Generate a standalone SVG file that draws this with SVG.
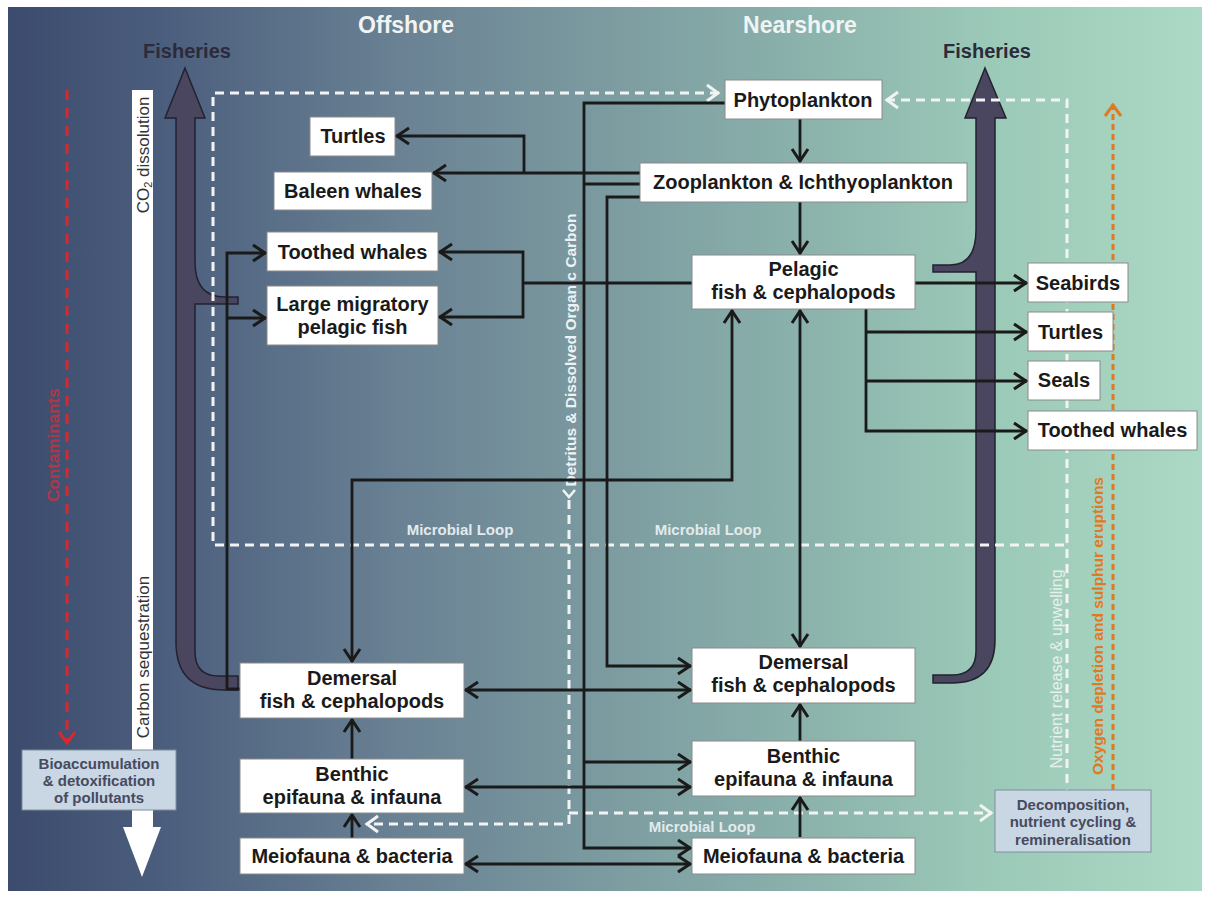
<svg xmlns="http://www.w3.org/2000/svg" width="1210" height="897" viewBox="0 0 1210 897">
<defs>
<linearGradient id="bg" x1="0" y1="0" x2="1" y2="0">
<stop offset="0" stop-color="#3c4b6d"/>
<stop offset="0.12" stop-color="#4a5c7c"/>
<stop offset="0.33" stop-color="#6a8294"/>
<stop offset="0.5" stop-color="#7c9ba0"/>
<stop offset="0.66" stop-color="#8ab1ab"/>
<stop offset="0.83" stop-color="#9ccab8"/>
<stop offset="1" stop-color="#acd9c5"/>
</linearGradient>
<marker id="ah" viewBox="0 0 20 20" refX="17" refY="10" markerWidth="20" markerHeight="20" markerUnits="userSpaceOnUse" orient="auto-start-reverse">
<path d="M4,2 L16,10 L4,18" fill="none" stroke="#1a1a1a" stroke-width="3"/>
</marker>
<marker id="wa" viewBox="0 0 20 20" refX="17" refY="10" markerWidth="20" markerHeight="20" markerUnits="userSpaceOnUse" orient="auto-start-reverse">
<path d="M5,2 L16,10 L5,18" fill="none" stroke="#f2f4f4" stroke-width="3"/>
</marker>
<marker id="oa" viewBox="0 0 20 20" refX="17" refY="10" markerWidth="20" markerHeight="20" markerUnits="userSpaceOnUse" orient="auto-start-reverse">
<path d="M5,2 L16,10 L5,18" fill="none" stroke="#e07a22" stroke-width="3"/>
</marker>
<marker id="ra" viewBox="0 0 20 20" refX="17" refY="10" markerWidth="20" markerHeight="20" markerUnits="userSpaceOnUse" orient="auto-start-reverse">
<path d="M5,2 L16,10 L5,18" fill="none" stroke="#d8282f" stroke-width="3"/>
</marker>
</defs>
<style>
.box{fill:#ffffff;stroke:#8a8a8a;stroke-width:1}
.gbox{fill:#c9d6e3;stroke:#7f8e9e;stroke-width:1}
.t{font-family:"Liberation Sans",Arial,sans-serif;font-weight:bold;font-size:20px;fill:#1a1a1a;text-anchor:middle}
.s{font-family:"Liberation Sans",Arial,sans-serif;font-weight:bold;font-size:15px;fill:#474a60;text-anchor:middle}
.title{font-family:"Liberation Sans",Arial,sans-serif;font-weight:bold;font-size:23px;fill:#f2f4f4;text-anchor:middle}
.fish{font-family:"Liberation Sans",Arial,sans-serif;font-weight:bold;font-size:20px;fill:#2b2b3b;text-anchor:middle}
.ml{font-family:"Liberation Sans",Arial,sans-serif;font-weight:bold;font-size:15px;fill:#e2eaec;text-anchor:middle}
.bar{font-family:"Liberation Sans",Arial,sans-serif;font-size:17px;fill:#333333;text-anchor:middle}
.c{fill:none;stroke:#1a1a1a;stroke-width:2.8}
.wd{fill:none;stroke:#f2f4f4;stroke-width:3;stroke-dasharray:9 6}
.fa{fill:#4b4660;stroke:#222230;stroke-width:1.5}
</style>

<rect x="8" y="7" width="1194" height="884" fill="url(#bg)"/>

<g id="titles">
<text class="title" x="406" y="33">Offshore</text>
<text class="title" x="800" y="33">Nearshore</text>
</g>

<g id="fisheries-left">
<path class="fa" d="M185,68 L205,118 L195,118 L195,262 Q195,297 225,297 L238,297 L238,304 L195,304 L195,652 Q195,676 219,676 L238,676 L238,690 L224,690 Q176,690 176,642 L176,118 L165,118 Z"/>
<text class="fish" x="187" y="58">Fisheries</text>
</g>
<g id="fisheries-right">
<path class="fa" d="M985,68 L1006,118 L995,118 L995,640 Q995,683 952,683 L933,683 L933,675 L952,675 Q976,675 976,651 L976,272 L933,272 L933,265 L950,265 Q976,265 976,230 L976,118 L965,118 Z"/>
<text class="fish" x="987" y="58">Fisheries</text>
</g>

<g id="carbon-bar">
<path d="M132,90 L153,90 L153,827 L161,827 L142,877 L123,827 L132,827 Z" fill="#ffffff"/>
<text class="bar" transform="translate(148.5,155) rotate(-90)">CO<tspan font-size="11" dy="3">2</tspan><tspan dy="-3"> dissolution</tspan></text>
<text class="bar" transform="translate(148.5,657) rotate(-90)">Carbon sequestration</text>
</g>

<g id="contaminants">
<path d="M67,90 L67,744" fill="none" stroke="#d8282f" stroke-width="3" stroke-dasharray="10 8" marker-end="url(#ra)"/>
<text transform="translate(59,445) rotate(-90)" font-family="Liberation Sans, Arial, sans-serif" font-weight="bold" font-size="17" fill="#d0303a" fill-opacity="0.75" text-anchor="middle">Contaminants</text>
</g>

<g id="dashed-flows">
<path class="wd" d="M719,93 L213,93 L213,545 L1067,545" marker-start="url(#wa)"/>
<path class="wd" d="M886,100 L1067,100 L1067,790" marker-start="url(#wa)"/>
<path class="wd" d="M569,500 L569,824 L366,824" marker-end="url(#wa)"/>
<path class="wd" d="M569,813 L992,813" marker-end="url(#wa)"/>
<path d="M563,490 L569,497 L575,490" fill="none" stroke="#f2f4f4" stroke-width="2.5"/>
<path d="M1113,790 L1113,104" fill="none" stroke="#e07a22" stroke-width="3" stroke-dasharray="6 4" marker-end="url(#oa)"/>
<text class="ml" x="460" y="535">Microbial Loop</text>
<text class="ml" x="708" y="535">Microbial Loop</text>
<text class="ml" x="702" y="832">Microbial Loop</text>
<text transform="translate(576,350) rotate(-90)" font-family="Liberation Sans, Arial, sans-serif" font-weight="bold" font-size="15.5" fill="#eef2f2" text-anchor="middle">Detritus &amp; Dissolved Organic Carbon</text>
<text transform="translate(1062,669) rotate(-90)" font-family="Liberation Sans, Arial, sans-serif" font-size="16" fill="#e8f0ec" text-anchor="middle">Nutrient release &amp; upwelling</text>
<text transform="translate(1103,626) rotate(-90)" font-family="Liberation Sans, Arial, sans-serif" font-weight="bold" font-size="15.5" fill="#e07a22" text-anchor="middle">Oxygen depletion and sulphur eruptions</text>
</g>

<g id="connectors">
<path class="c" d="M800,119 L800,162" marker-end="url(#ah)"/>
<path class="c" d="M800,202 L800,254" marker-end="url(#ah)"/>
<path class="c" d="M640,173 L433,173" marker-end="url(#ah)"/>
<path class="c" d="M524,173 L524,136 L396,136" marker-end="url(#ah)"/>
<path class="c" d="M725,103 L584,103 L584,848 L691,848" marker-end="url(#ah)"/>
<path class="c" d="M584,762 L691,762" marker-end="url(#ah)"/>
<path class="c" d="M640,184 L584,184"/>
<path class="c" d="M640,197 L607,197 L607,666 L691,666" marker-end="url(#ah)"/>
<path class="c" d="M692,283 L523,283"/>
<path class="c" d="M439,252 L523,252 L523,317 L439,317" marker-start="url(#ah)" marker-end="url(#ah)"/>
<path class="c" d="M240,689 L227,689 L227,253 L266,253" marker-end="url(#ah)"/>
<path class="c" d="M227,318 L266,318" marker-end="url(#ah)"/>
<path class="c" d="M352,662 L352,480 L732,480 L732,310" marker-start="url(#ah)" marker-end="url(#ah)"/>
<path class="c" d="M800,310 L800,647" marker-start="url(#ah)" marker-end="url(#ah)"/>
<path class="c" d="M915,283 L1027,283" marker-end="url(#ah)"/>
<path class="c" d="M866,309 L866,431 L1027,431" marker-end="url(#ah)"/>
<path class="c" d="M866,332 L1027,332" marker-end="url(#ah)"/>
<path class="c" d="M866,381 L1027,381" marker-end="url(#ah)"/>
<path class="c" d="M465,690 L691,690" marker-start="url(#ah)" marker-end="url(#ah)"/>
<path class="c" d="M465,787 L691,787" marker-start="url(#ah)" marker-end="url(#ah)"/>
<path class="c" d="M465,864 L691,864" marker-start="url(#ah)" marker-end="url(#ah)"/>
<path class="c" d="M800,741 L800,704" marker-end="url(#ah)"/>
<path class="c" d="M800,837 L800,797" marker-end="url(#ah)"/>
<path class="c" d="M352,759 L352,719" marker-end="url(#ah)"/>
<path class="c" d="M352,838 L352,814" marker-end="url(#ah)"/>
</g>

<g id="phytoplankton"><rect class="box" x="725" y="80" width="157" height="39"/><text class="t" x="803" y="107">Phytoplankton</text></g>
<g id="zooplankton"><rect class="box" x="640" y="163" width="327" height="39"/><text class="t" x="803" y="189">Zooplankton &amp; Ichthyoplankton</text></g>
<g id="turtles-offshore"><rect class="box" x="310" y="117" width="85" height="39"/><text class="t" x="353" y="143">Turtles</text></g>
<g id="baleen-whales"><rect class="box" x="274" y="172" width="158" height="38"/><text class="t" x="353" y="198">Baleen whales</text></g>
<g id="toothed-whales-offshore"><rect class="box" x="267" y="232" width="171" height="39"/><text class="t" x="352.5" y="258.5">Toothed whales</text></g>
<g id="large-migratory"><rect class="box" x="267" y="286" width="171" height="59"/><text class="t" x="352.5" y="311">Large migratory</text><text class="t" x="352.5" y="334">pelagic fish</text></g>
<g id="pelagic-nearshore"><rect class="box" x="692" y="255" width="223" height="54"/><text class="t" x="803.5" y="276">Pelagic</text><text class="t" x="803.5" y="299">fish &amp; cephalopods</text></g>
<g id="seabirds"><rect class="box" x="1028" y="263" width="100" height="39"/><text class="t" x="1078" y="289.5">Seabirds</text></g>
<g id="turtles-nearshore"><rect class="box" x="1028" y="312" width="85" height="39"/><text class="t" x="1070.5" y="339">Turtles</text></g>
<g id="seals"><rect class="box" x="1028" y="361" width="72" height="39"/><text class="t" x="1064" y="387">Seals</text></g>
<g id="toothed-whales-nearshore"><rect class="box" x="1028" y="411" width="169" height="39"/><text class="t" x="1112.5" y="437">Toothed whales</text></g>
<g id="demersal-offshore"><rect class="box" x="240" y="663" width="224" height="55"/><text class="t" x="352" y="685">Demersal</text><text class="t" x="352" y="708">fish &amp; cephalopods</text></g>
<g id="benthic-offshore"><rect class="box" x="240" y="759" width="224" height="54"/><text class="t" x="352" y="781">Benthic</text><text class="t" x="352" y="804">epifauna &amp; infauna</text></g>
<g id="meiofauna-offshore"><rect class="box" x="240" y="838" width="224" height="36"/><text class="t" x="352" y="862.5">Meiofauna &amp; bacteria</text></g>
<g id="demersal-nearshore"><rect class="box" x="692" y="648" width="223" height="55"/><text class="t" x="803.5" y="669">Demersal</text><text class="t" x="803.5" y="692">fish &amp; cephalopods</text></g>
<g id="benthic-nearshore"><rect class="box" x="692" y="741" width="223" height="55"/><text class="t" x="803.5" y="763">Benthic</text><text class="t" x="803.5" y="786">epifauna &amp; infauna</text></g>
<g id="meiofauna-nearshore"><rect class="box" x="692" y="838" width="223" height="36"/><text class="t" x="803.5" y="862.5">Meiofauna &amp; bacteria</text></g>
<g id="bioaccumulation"><rect class="gbox" x="22" y="750" width="154" height="60"/><text class="s" x="99" y="769">Bioaccumulation</text><text class="s" x="99" y="786">&amp; detoxification</text><text class="s" x="99" y="803">of pollutants</text></g>
<g id="decomposition"><rect class="gbox" x="995" y="790" width="156" height="62"/><text class="s" x="1073" y="810">Decomposition,</text><text class="s" x="1073" y="827">nutrient cycling &amp;</text><text class="s" x="1073" y="845">remineralisation</text></g>
</svg>
